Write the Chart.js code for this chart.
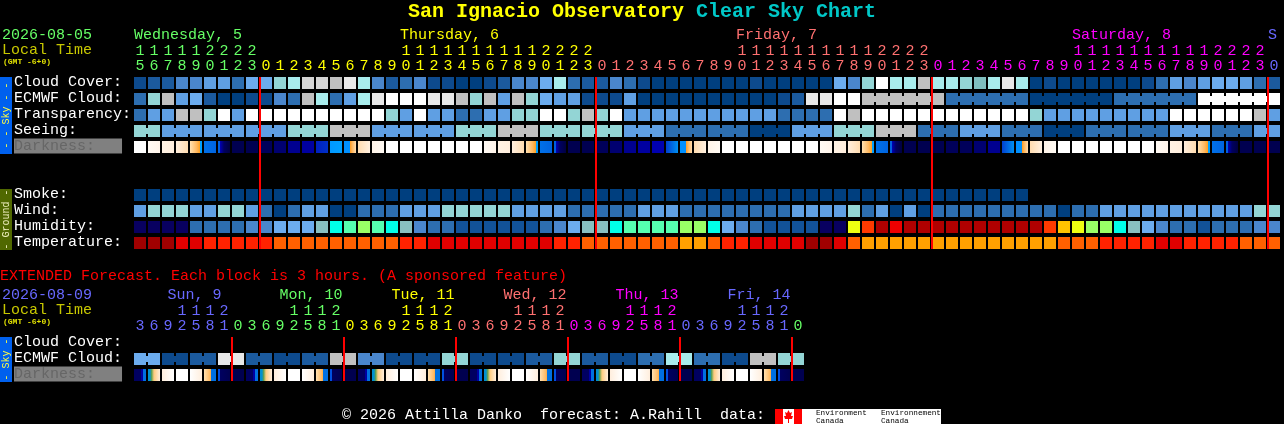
<!DOCTYPE html>
<html>
<head>
<meta charset="utf-8">
<title>San Ignacio Observatory Clear Sky Chart</title>
<script src="https://cdn.jsdelivr.net/npm/chart.js@4"></script>
<style>
    html, body { margin: 0; padding: 0; background: #000; overflow: hidden; }
    canvas { position: absolute; left: 0; }
    #mainChart { top: 0; }
    #extChart { top: 264px; }
</style>
</head>
<body>
<canvas id="mainChart" width="1284" height="264"></canvas>
<canvas id="extChart" width="1284" height="160"></canvas>
<script>
// hours along the top of each table
const mainHours = [15,16,17,18,19,20,21,22,23,
    0,1,2,3,4,5,6,7,8,9,10,11,12,13,14,15,16,17,18,19,20,21,22,23,
    0,1,2,3,4,5,6,7,8,9,10,11,12,13,14,15,16,17,18,19,20,21,22,23,
    0,1,2,3,4,5,6,7,8,9,10,11,12,13,14,15,16,17,18,19,20,21,22,23,
    0];
const extHours = [3,6,9,12,15,18,21,
    0,3,6,9,12,15,18,21,
    0,3,6,9,12,15,18,21,
    0,3,6,9,12,15,18,21,
    0,3,6,9,12,15,18,21,
    0,3,6,9,12,15,18,21,
    0];

const mainDayNames = ["Wednesday, 5", "Thursday, 6", "Friday, 7", "Saturday, 8", "S"];
const mainDayStart = [0, 19, 43, 67, 81];
const extDayNames = ["Sun, 9", "Mon, 10", "Tue, 11", "Wed, 12", "Thu, 13", "Fri, 14"];
const extDayStart = [2.4, 10.4, 18.4, 26.4, 34.4, 42.4];

const mainRowLabels = ["Cloud Cover:", "ECMWF Cloud:", "Transparency:", "Seeing:", "Darkness:   ", "", "", "Smoke:", "Wind:", "Humidity:", "Temperature:"];
const extRowLabels = ["Cloud Cover:", "ECMWF Cloud:", "Darkness:   "];

// forecast values, read as levels of the colour scales further down
const cloudCover = [1,2,2,4,4,5,5,3,6,6,8,9,11,11,10,12,9,4,2,3,4,
    1,1,0,0,1,2,4,4,6,9,3,2,2,4,3,1,0,0,0,0,0,0,0,1,0,0,0,0,0,6,4,
    8,13,9,9,10,9,9,8,7,9,12,9,0,1,0,0,0,0,0,0,1,3,5,4,5,6,6,5,3,2];
const ecmwfCloud = [3,8,10,5,6,2,0,0,1,1,4,3,10,9,3,5,9,12,13,13,13,
    12,12,10,8,10,5,10,8,6,5,5,1,1,1,5,0,0,0,0,0,0,0,0,0,0,1,2,12,12,13,13,
    10,10,10,10,10,10,3,3,3,3,3,3,0,0,0,0,0,0,3,3,3,3,3,3,13,13,13,13,13,13];
const transparency = [3,5,5,10,10,8,13,5,13,13,13,13,13,13,13,13,13,13,8,5,13,
    5,5,3,3,5,5,8,8,13,13,8,10,8,13,5,5,5,5,5,5,5,5,5,5,5,3,3,3,3,13,10,
    13,13,13,13,13,13,13,13,13,13,13,13,8,5,5,5,5,5,5,5,5,5,13,13,13,13,13,13,10,5];
const seeing = [8,8,5,5,5,5,5,5,5,5,5,8,8,8,10,10,10,5,5,5,5,5,5,8,8,8,10,10,10,
    8,8,8,8,8,8,5,5,5,3,3,3,3,3,3,0,0,0,5,5,5,8,8,8,10,10,10,
    3,3,3,5,5,5,3,3,3,0,0,0,3,3,3,3,3,3,5,5,5,3,3,3,5,5];
const darkness = [0,1,2,3,4,5,6,7,7,8,9,10,11,12,13,15,16,17,0,0,0,0,0,0,
    0,1,2,3,4,5,6,7,7,8,9,10,11,18,14,15,16,17,0,0,0,0,0,0,
    0,1,2,3,4,5,6,7,7,7,8,8,9,10,14,15,16,17,0,0,0,0,0,0,
    0,1,2,3,4,5,6,7,7,7];
const smoke = [0,0,0,0,0,0,0,0,0,0,0,0,0,0,0,0,0,0,0,0,0,0,0,0,0,0,0,0,0,0,0,0,
    0,0,0,0,0,0,0,0,0,0,0,0,0,0,0,0,0,0,0,0,0,0,0,0,0,0,0,0,0,0,0,0];
const wind = [5,8,8,8,5,5,8,8,5,3,0,3,5,5,0,0,3,3,3,5,5,
    5,8,8,8,8,8,5,5,5,5,3,3,3,3,3,5,5,5,3,3,3,3,3,3,3,3,5,5,5,5,8,
    3,5,0,5,0,3,3,3,3,3,3,3,3,3,0,3,3,5,5,5,5,5,5,5,5,5,5,5,8,8];
const humidity = [0,0,0,0,2,2,2,2,3,3,4,4,4,5,6,7,8,7,6,5,3,
    2,2,1,1,1,1,1,1,2,3,4,5,5,6,7,7,7,7,8,8,6,4,3,2,1,1,1,1,0,0,9,
    11,13,12,13,13,13,13,13,13,13,13,13,13,11,10,9,8,8,6,5,4,3,2,2,1,2,2,2,3,3];
const temperature = [0,0,0,1,1,2,2,2,2,2,3,3,3,3,3,3,3,3,3,2,2,
    1,1,1,1,1,1,1,1,1,2,2,3,3,3,3,3,3,3,4,4,3,2,2,1,1,1,1,0,0,1,3,
    4,4,4,4,4,4,4,4,4,4,4,4,4,4,3,3,3,2,2,2,2,1,1,2,2,2,2,3,3,3];

const extCloud = [6,6,1,1,2,2,12,12,2,2,1,1,2,2,10,10,4,4,1,1,1,1,8,8,
    1,1,1,1,2,2,8,8,2,2,1,1,3,3,9,9,3,3,1,1,10,10,8,8];
const extDarkness = [19,20,21,0,22,23,24,7,19,20,21,0,22,23,24,7,19,20,21,0,22,23,24,7,
    19,20,21,0,22,23,24,7,19,20,21,0,22,23,24,7,19,20,21,0,22,23,24,7];

// first cell of each joined block of cells
const seeingBlocks = [0,2,5,8,11,14,17,20,23,26,29,32,35,38,41,44,47,50,53,56,59,62,65,68,71,74,77,80,82];
const ecmwfBlocks = [52,58,64,70,76,82];
const extBlocks = [0,2,4,6,8,10,12,14,16,18,20,22,24,26,28,30,32,34,36,38,40,42,44,46,48];

// the red lines sit just past the gap before midnight
const mainMidnights = [8.5714, 32.5714, 56.5714, 80.5714];
const extMidnights = [6.5714, 14.5714, 22.5714, 30.5714, 38.5714, 46.5714];

const skyColors = ["#003f7f","#0d4a8d","#1b5a9e","#2d6eb0","#4a86cc","#5f9fe3","#6cacee","#7fbfbf","#93d5d5","#a8ecec","#c0c0c0","#d4d4d4","#e8e8e8","#ffffff"];
const humidityColors = ["#080060","#125298","#2d6eb0","#4a86cc","#6cacee","#88c0c0","#00ffe8","#55ffb0","#99ff66","#eeff11","#ffc400","#ff3a00","#ee0000","#b00000"];
const temperatureColors = ["#a00000","#e00000","#ff2200","#ff6000","#ffa000"];
const dayColors = ["#66ff66", "#ffff00", "#ff7070", "#ff00ff", "#6868ff"];
const extDayColors = ["#6868ff", "#66ff66", "#ffff00", "#ff7070", "#ff00ff", "#6868ff", "#66ff66"];

// darkness cells shade across their width: [offset, colour] stops
const darknessStops = [
    [[0, "#ffffff"], [1, "#ffffff"]],
    [[0, "#fffaf4"], [1, "#fff4ea"]],
    [[0, "#fff2e4"], [1, "#ffeedd"]],
    [[0, "#ffeedd"], [1, "#ffdcb0"]],
    [[0, "#ffe0b0"], [0.55, "#ffb860"], [0.83, "#ffa020"], [0.84, "#00a0ff"], [1, "#00a0ff"]],
    [[0, "#0070e8"], [1, "#0064e0"]],
    [[0, "#0060e0"], [0.18, "#0060e0"], [0.2, "#0000b0"], [0.5, "#000060"], [1, "#000040"]],
    [[0, "#000050"], [1, "#000050"]],
    [[0, "#00005a"], [1, "#00005a"]],
    [[0, "#000070"], [1, "#000070"]],
    [[0, "#000090"], [1, "#000090"]],
    [[0, "#0000a0"], [1, "#0000a0"]],
    [[0, "#0020c0"], [1, "#0030c8"]],
    [[0, "#0098ff"], [1, "#00a0ff"]],
    [[0, "#0040d0"], [1, "#0090f0"]],
    [[0, "#0090ff"], [0.48, "#0090ff"], [0.5, "#ff9a20"], [0.7, "#ffb860"], [1, "#ffdcb0"]],
    [[0, "#ffdcb0"], [1, "#fff0e0"]],
    [[0, "#fff4e8"], [1, "#fffaf4"]],
    [[0, "#0000b0"], [1, "#0000b0"]],
    [[0, "#000060"], [0.55, "#000060"], [0.6, "#0000a0"], [0.75, "#0000a0"], [0.76, "#0070e0"], [1, "#0070e0"]],
    [[0, "#0090d0"], [0.17, "#0090d0"], [0.3, "#60a050"], [0.5, "#ffcc80"], [1, "#ffeedd"]],
    [[0, "#ffeedd"], [1, "#ffffff"]],
    [[0, "#ffffff"], [1, "#ffeedd"]],
    [[0, "#ffe0b0"], [0.5, "#ffb860"], [0.6, "#ffa830"], [0.62, "#0070e0"], [1, "#0070e0"]],
    [[0, "#0050e0"], [0.16, "#0050e0"], [0.18, "#000060"], [1, "#000050"]]
];

const MONO = "'Liberation Mono', monospace";
const CELL = { barThickness: 12, grouped: false, borderWidth: 0, inflateAmount: 0 };

function cellRow(values, row, colors) {
    return {
        ...CELL,
        data: values.map((v, i) => ({ x: i, y: [row, row + 0.75] })),
        backgroundColor: values.map((v) => colors[v])
    };
}

// thin bridges across the gaps inside a block, which leaves the notches
function linkRow(values, row, colors, blocks) {
    const data = [];
    const backgroundColor = [];
    for (let b = 0; b < blocks.length - 1; b++) {
        for (let i = blocks[b]; i < blocks[b + 1] - 1; i++) {
            data.push({ x: i + 0.5, y: [row + 0.1875, row + 0.5625] });
            backgroundColor.push(colors[values[i]]);
        }
    }
    return { ...CELL, barThickness: 2, data, backgroundColor };
}

function darknessRow(values, row) {
    return {
        ...CELL,
        data: values.map((v, i) => ({ x: i, y: [row, row + 0.75] })),
        backgroundColor(c) {
            const stops = darknessStops[values[c.dataIndex]];
            const area = c.chart.chartArea;
            if (!area) return stops[0][1];
            const left = c.chart.scales.x.getPixelForValue(c.dataIndex) - 6;
            const g = c.chart.ctx.createLinearGradient(left, 0, left + 12, 0);
            stops.forEach((s) => g.addColorStop(s[0], s[1]));
            return g;
        }
    };
}

function midnightRow(values, top, bottom) {
    return {
        ...CELL,
        barThickness: 2,
        data: values.map((v) => ({ x: v, y: [top, bottom] })),
        backgroundColor: "#ff0000"
    };
}

function drawText(ctx, text, x, y, font, color, align) {
    ctx.font = font;
    ctx.fillStyle = color;
    ctx.textAlign = align || "left";
    ctx.textBaseline = "middle";
    ctx.fillText(text, x, y);
}

function drawSideBar(ctx, top, bottom, color, text, textColor) {
    ctx.fillStyle = color;
    ctx.fillRect(0, top, 12, bottom - top);
    ctx.save();
    ctx.translate(6, (top + bottom) / 2);
    ctx.rotate(-Math.PI / 2);
    drawText(ctx, text, 0, 0.5, "10px " + MONO, textColor, "center");
    ctx.restore();
}

function drawDays(chart, names, starts, colors, y) {
    const x = chart.scales.x;
    names.forEach((name, i) => {
        drawText(chart.ctx, name, x.getPixelForValue(starts[i]) - 6, y, "15px " + MONO, colors[i]);
    });
}

function drawLogo(ctx) {
    ctx.fillStyle = "#ffffff";
    ctx.fillRect(775, 409, 166, 15);
    ctx.fillStyle = "#ff0000";
    ctx.fillRect(775, 409, 8, 15);
    ctx.fillRect(794, 409, 8, 15);
    ctx.beginPath();
    [[788.5,410],[790,413],[792,412],[791,416],[793,416],[792,419],[789,419],[789,423],[788,423],[788,419],[785,419],[784,416],[786,416],[785,412],[787,413]]
        .forEach((p, i) => (i ? ctx.lineTo(p[0], p[1]) : ctx.moveTo(p[0], p[1])));
    ctx.closePath();
    ctx.fill();
    drawText(ctx, "Environment", 816, 413, "7.7px " + MONO, "#000000");
    drawText(ctx, "Canada", 816, 420.5, "7.7px " + MONO, "#000000");
    drawText(ctx, "Environnement", 881, 413, "7.7px " + MONO, "#000000");
    drawText(ctx, "Canada", 881, 420.5, "7.7px " + MONO, "#000000");
}

const mainText = {
    id: "mainText",
    afterDraw(chart) {
        const ctx = chart.ctx;
        drawText(ctx, "San Ignacio Observatory", 408, 12, "bold 20px " + MONO, "#ffff00");
        drawText(ctx, "Clear Sky Chart", 696, 12, "bold 20px " + MONO, "#00c8c8");
        drawText(ctx, "2026-08-05", 2, 35, "15px " + MONO, "#66ff66");
        drawText(ctx, "Local Time", 2, 50, "15px " + MONO, "#c8c800");
        drawText(ctx, "(GMT -6+0)", 3, 62, "bold 8px " + MONO, "#e0e000");
        drawDays(chart, mainDayNames, mainDayStart, dayColors, 35);
        drawSideBar(ctx, 77, 154, "#0060ee", "- - Sky - -", "#ffff40");
        drawSideBar(ctx, 189, 250, "#506800", "- Ground -", "#f0f0c0");
    }
};

const extText = {
    id: "extText",
    afterDraw(chart) {
        const ctx = chart.ctx;
        drawText(ctx, "EXTENDED Forecast. Each block is 3 hours. (A sponsored feature)", 0, 12, "15px " + MONO, "#ff0000");
        drawText(ctx, "2026-08-09", 2, 31, "15px " + MONO, "#6868ff");
        drawText(ctx, "Local Time", 2, 46, "15px " + MONO, "#c8c800");
        drawText(ctx, "(GMT -6+0)", 3, 58, "bold 8px " + MONO, "#e0e000");
        drawDays(chart, extDayNames, extDayStart, extDayColors.slice(0, 6), 31);
        drawSideBar(ctx, 73, 118, "#0060ee", "- Sky -", "#ffff40");
        drawText(ctx, "\u00a9 2026 Attilla Danko  forecast: A.Rahill  data:", 342, 151, "15px " + MONO, "#ffffff");
        ctx.save();
        ctx.translate(0, -264);
        drawLogo(ctx);
        ctx.restore();
    }
};

function makeChart(id, hours, palette, rowLabels, rows, datasets, topHeight, bottomPad, plugin) {
    return new Chart(document.getElementById(id), {
        type: "bar",
        data: { datasets },
        options: {
            responsive: false,
            animation: false,
            events: [],
            layout: { padding: { left: 14, right: 3, top: 0, bottom: bottomPad } },
            plugins: { legend: { display: false }, tooltip: { enabled: false }, title: { display: false } },
            scales: {
                x: {
                    type: "linear",
                    position: "top",
                    min: -0.5,
                    max: 81.5,
                    offset: false,
                    grid: { display: false },
                    border: { display: false },
                    afterBuildTicks(axis) { axis.ticks = hours.map((h, i) => ({ value: i })); },
                    afterFit(axis) { axis.height = topHeight; },
                    ticks: {
                        autoSkip: false,
                        maxRotation: 0,
                        minRotation: 0,
                        padding: -5,
                        font: { family: MONO, size: 15, lineHeight: 1 },
                        color(c) {
                            const day = hours.slice(0, c.index + 1).filter((h) => h === 0).length;
                            return palette[day];
                        },
                        callback(value, index) {
                            const h = hours[index];
                            return h >= 10 ? [String(h)[0], String(h)[1]] : [" ", String(h)];
                        }
                    }
                },
                y: {
                    type: "linear",
                    reverse: true,
                    min: 0,
                    max: rows,
                    grid: { display: false },
                    border: { display: false },
                    afterBuildTicks(axis) {
                        axis.ticks = [];
                        rowLabels.forEach((label, i) => { if (label) axis.ticks.push({ value: i + 0.3125 }); });
                    },
                    afterFit(axis) { axis.width = 119; },
                    ticks: {
                        autoSkip: false,
                        crossAlign: "far",
                        padding: 0,
                        font: { family: MONO, size: 15, lineHeight: 1 },
                        showLabelBackdrop: true,
                        backdropPadding: 0,
                        backdropColor(c) {
                            return rowLabels[Math.floor(c.tick.value)].startsWith("Darkness") ? "#808080" : "rgba(0,0,0,0)";
                        },
                        color(c) {
                            return rowLabels[Math.floor(c.tick.value)].startsWith("Darkness") ? "#666666" : "#ffffff";
                        },
                        callback(value) { return rowLabels[Math.floor(value)]; }
                    }
                }
            }
        },
        plugins: [plugin]
    });
}

makeChart("mainChart", mainHours, dayColors, mainRowLabels, 11, [
    midnightRow(mainMidnights, 0, 10.75),
    cellRow(cloudCover, 0, skyColors),
    cellRow(ecmwfCloud, 1, skyColors),
    linkRow(ecmwfCloud, 1, skyColors, ecmwfBlocks),
    cellRow(transparency, 2, skyColors),
    cellRow(seeing, 3, skyColors),
    linkRow(seeing, 3, skyColors, seeingBlocks),
    darknessRow(darkness, 4),
    cellRow(smoke, 7, skyColors),
    cellRow(wind, 8, skyColors),
    cellRow(humidity, 9, humidityColors),
    cellRow(temperature, 10, temperatureColors)
], 77, 11, mainText);

makeChart("extChart", extHours, extDayColors, extRowLabels, 3, [
    midnightRow(extMidnights, 0, 2.75),
    cellRow(extCloud, 1, skyColors),
    linkRow(extCloud, 1, skyColors, extBlocks),
    darknessRow(extDarkness, 2)
], 73, 39, extText);
</script>
</body>
</html>
